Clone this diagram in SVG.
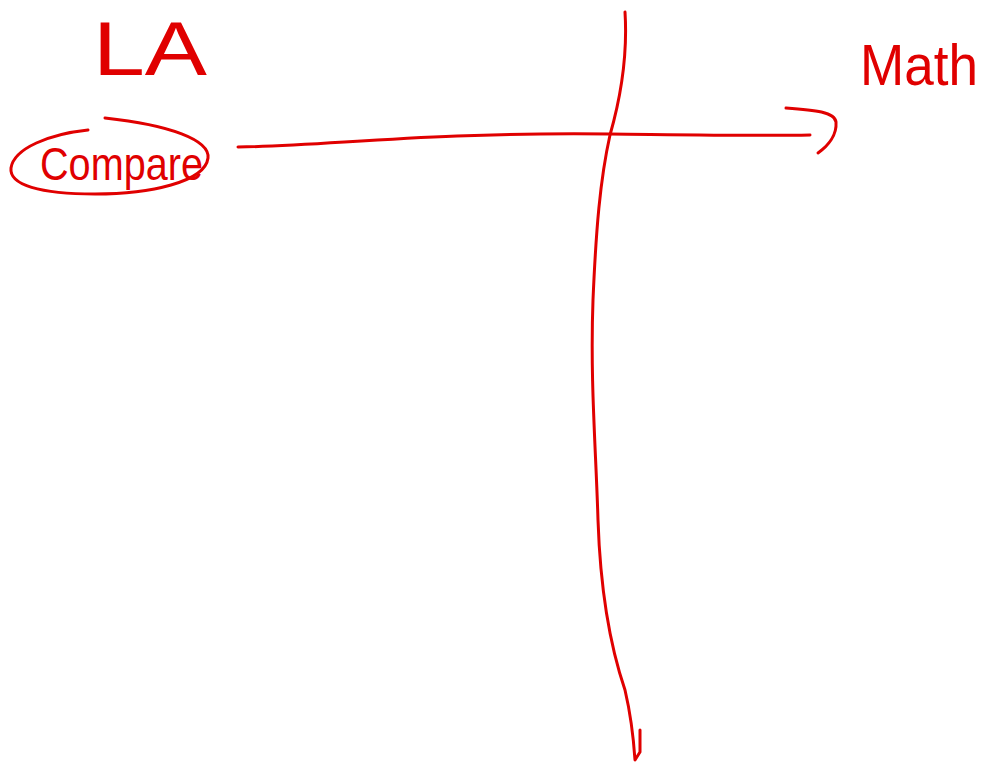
<svg xmlns="http://www.w3.org/2000/svg" width="992" height="767" viewBox="0 0 992 767">
<style>
.ink{fill:none;stroke:#e00000;stroke-width:3;stroke-linecap:round;stroke-linejoin:round}
.lbl{fill:#e00000;font-family:"Liberation Sans","DejaVu Sans",sans-serif}
</style>
<rect width="992" height="767" fill="#ffffff"/>
<g id="node-la">
<text class="lbl" x="93" y="75" font-size="76" textLength="114" lengthAdjust="spacingAndGlyphs">LA</text>
</g>
<g id="node-math">
<text class="lbl" x="860" y="85" font-size="58" textLength="118" lengthAdjust="spacingAndGlyphs">Math</text>
</g>
<g id="node-compare">
<path class="ink" d="M88,130 C50,134 14,148 11,168 C9,185 40,194 95,194 C150,194 205,182 208,158 C210,140 170,125 105,118"/>
<text class="lbl" x="40" y="180" font-size="46" textLength="163" lengthAdjust="spacingAndGlyphs">Compare</text>
</g>
<g id="connectors">
<path class="ink" d="M238,147 C330,146 420,132 610,134 C700,135 760,136 810,135"/>
<path class="ink" d="M786,108 C815,110 835,112 836,122 C837,135 828,146 818,153"/>
<path class="ink" d="M625,12 C628,60 620,100 610,135 C600,180 596,230 593,300 C590,380 596,450 598,520 C600,580 608,640 625,690 C632,720 634,745 635,760 L640,752 L640,730"/>
</g>
</svg>
